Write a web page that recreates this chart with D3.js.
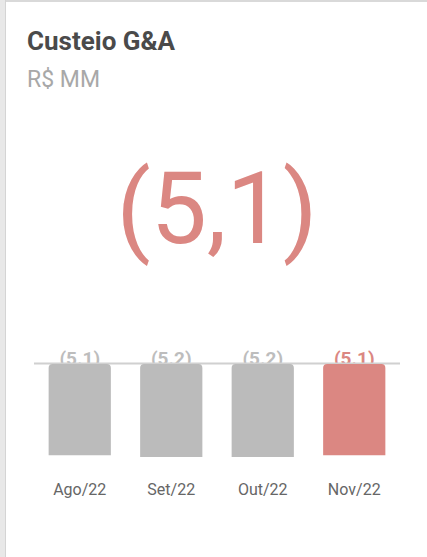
<!DOCTYPE html>
<html>
<head>
<meta charset="utf-8">
<script src="https://cdn.jsdelivr.net/npm/d3@7"></script>
<style>
  body { margin: 0; background: #fff; font-family: Roboto, "Noto Sans", sans-serif; }
</style>
</head>
<body>
<div id="chart"></div>
<script>
let width = 427,
    height = 557;

// data
const title = "Custeio G&A";
const unit = "R$ MM";
const months = ["Ago/22", "Set/22", "Out/22", "Nov/22"];
const values = [5.1, 5.2, 5.2, 5.1]; // negative values, shown in parentheses

const gray = "#bbbbbb",
      red = "#db8782";

const svg = d3.select("#chart")
  .append("svg")
  .attr("width", width)
  .attr("height", height);

// card frame (gray strip on the left, thin line on top)
svg.append("rect").attr("x", 0).attr("y", 0).attr("width", 5).attr("height", height).attr("fill", "#e8e8e8");
svg.append("rect").attr("x", 5).attr("y", 0).attr("width", 1).attr("height", height).attr("fill", "#d4d4d4");
svg.append("rect").attr("x", 6).attr("y", 0).attr("width", width - 6).attr("height", 2).attr("fill", "#d9d9d9");

svg.append("text")
  .attr("x", 27).attr("y", 50)
  .attr("font-size", 26).attr("font-weight", "bold")
  .attr("fill", "#4a4a4a")
  .text(title);

svg.append("text")
  .attr("x", 27).attr("y", 87)
  .attr("font-size", 23)
  .attr("fill", "#a8a8a8")
  .text(unit);

// big number = latest month
const last = values[values.length - 1];
svg.append("text")
  .attr("x", 217).attr("y", 243)
  .attr("text-anchor", "middle")
  .attr("font-size", 100)
  .attr("fill", red)
  .text("(" + last.toFixed(1).replace(".", ",") + ")");

let x = d3.scaleBand()
  .domain(months)
  .range([34, 400])
  .paddingInner(0.32)
  .paddingOuter(0.16);

let y = d3.scaleLinear()
  .domain([0, 5.2])
  .range([364, 457]);

// value labels sit behind the bars
svg.append("g")
  .selectAll("text")
  .data(months)
  .join("text")
  .attr("x", d => x(d) + x.bandwidth() / 2)
  .attr("y", 365)
  .attr("text-anchor", "middle")
  .attr("font-size", 19)
  .attr("font-weight", "bold")
  .attr("fill", (d, i) => i === months.length - 1 ? red : "#bdbdbd")
  .text((d, i) => "(" + values[i].toFixed(1) + ")");

svg.append("line")
  .attr("x1", x.range()[0]).attr("x2", x.range()[1])
  .attr("y1", 363.5).attr("y2", 363.5)
  .attr("stroke", "#d0d0d0")
  .attr("stroke-width", 2);

const r = 4;
svg.append("g")
  .selectAll("path")
  .data(months)
  .join("path")
  .attr("fill", (d, i) => i === months.length - 1 ? red : gray)
  .attr("d", (d, i) => {
    let x0 = x(d), w = x.bandwidth(), y0 = y(0), y1 = y(values[i]);
    return `M${x0},${y1}V${y0 + r}Q${x0},${y0} ${x0 + r},${y0}H${x0 + w - r}Q${x0 + w},${y0} ${x0 + w},${y0 + r}V${y1}Z`;
  });

svg.append("g")
  .selectAll("text")
  .data(months)
  .join("text")
  .attr("x", d => x(d) + x.bandwidth() / 2)
  .attr("y", 495)
  .attr("text-anchor", "middle")
  .attr("font-size", 16)
  .attr("fill", "#666")
  .text(d => d);
</script>
</body>
</html>
